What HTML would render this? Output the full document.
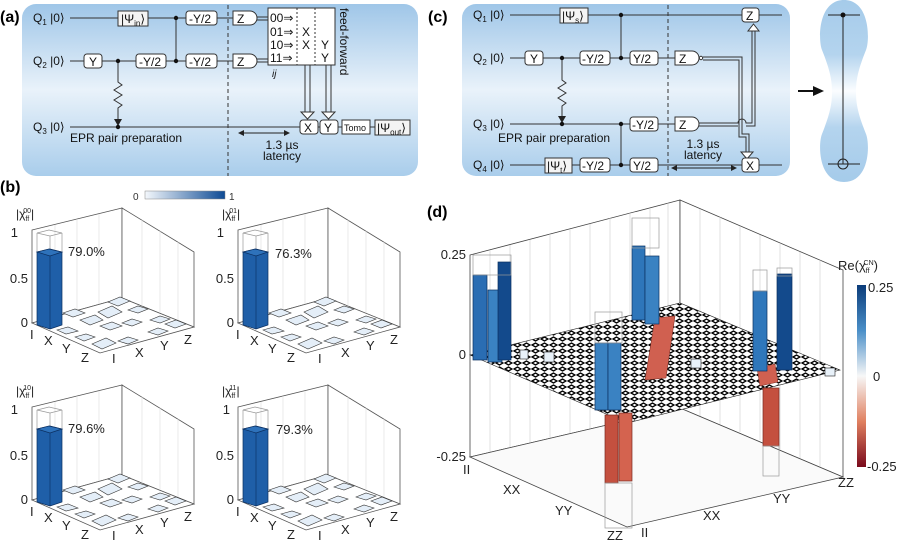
<!DOCTYPE html>
<html><head><meta charset="utf-8"><style>
html,body{margin:0;padding:0;background:#fff;}
svg{display:block;font-family:"Liberation Sans",sans-serif;}
</style></head><body>
<svg width="900" height="548" viewBox="0 0 900 548" xmlns="http://www.w3.org/2000/svg">
<defs>
<linearGradient id="bg" x1="0" y1="0" x2="0" y2="1">
<stop offset="0" stop-color="#9fc6e8"/><stop offset="0.5" stop-color="#e9f2fa"/><stop offset="1" stop-color="#a9cdeb"/></linearGradient>
<linearGradient id="pill" x1="0" y1="0" x2="0" y2="1">
<stop offset="0" stop-color="#a5cbea"/><stop offset="0.3" stop-color="#b4d4ee"/><stop offset="0.5" stop-color="#fbfdff"/><stop offset="0.7" stop-color="#b4d4ee"/><stop offset="1" stop-color="#a5cbea"/></linearGradient>
<linearGradient id="cb1" x1="0" y1="0" x2="1" y2="0"><stop offset="0" stop-color="#f4f8fc"/><stop offset="1" stop-color="#0d4a94"/></linearGradient>
<linearGradient id="cb2" x1="0" y1="0" x2="0" y2="1"><stop offset="0" stop-color="#0b3c7a"/><stop offset="0.25" stop-color="#4a8fc8"/><stop offset="0.5" stop-color="#f7f7f7"/><stop offset="0.75" stop-color="#e08060"/><stop offset="1" stop-color="#7a0a1c"/></linearGradient>
<pattern id="tiles" width="9" height="6" patternUnits="userSpaceOnUse">
<rect width="9" height="6" fill="#fff"/><path d="M1 3 L4.5 1 L8 3 L4.5 5 Z" fill="#fff" stroke="#000" stroke-width="1.3"/></pattern>
<g id="chart">
<polygon points="32,230 122,208 122,298 32,323" fill="#fff" stroke="#555" stroke-width="0.8"/>
<polygon points="122,208 194,252 194,327 122,298" fill="#fff" stroke="#555" stroke-width="0.8"/>
<polygon points="32,323 122,298 194,327 100,353" fill="#fff" stroke="#555" stroke-width="0.8"/>
<g stroke="#ddd" stroke-width="0.6"><line x1="142" y1="220" x2="142" y2="306"/><line x1="160" y1="231" x2="160" y2="313"/><line x1="178" y1="242" x2="178" y2="320"/><line x1="55" y1="225" x2="55" y2="316"/><line x1="77" y1="219" x2="77" y2="310"/><line x1="99" y1="214" x2="99" y2="304"/></g>
<g fill="#e4eef8" stroke="#333" stroke-width="0.6">
<polygon points="63,313 75,309 85,313 73,317"/><polygon points="80,320 95,315 103,320 90,325"/>
<polygon points="108,302 120,297 130,301 118,306"/><polygon points="98,312 112,306 122,312 108,318"/>
<polygon points="57,330 68,327 78,331 66,334"/><polygon points="75,337 86,334 95,337 84,341"/>
<polygon points="92,344 106,338 116,343 102,349"/><polygon points="118,341 128,337 138,340 128,344"/>
<polygon points="100,326 112,322 122,326 110,330"/><polygon points="122,323 132,319 142,322 132,326"/>
<polygon points="128,310 138,306 148,309 138,313"/><polygon points="150,320 160,316 170,319 160,323"/>
<polygon points="148,332 158,328 168,331 158,335"/><polygon points="165,324 176,320 186,324 175,328"/>
</g>
<polygon points="37,233 49,230 62,233 50,236" fill="none" stroke="#999" stroke-width="0.7"/>
<line x1="37" y1="233" x2="37" y2="252" stroke="#999" stroke-width="0.7"/><line x1="62" y1="233" x2="62" y2="252" stroke="#999" stroke-width="0.7"/><line x1="50" y1="236" x2="50" y2="255" stroke="#999" stroke-width="0.7"/>
<polygon points="37,252 37,325 50,329 62,325 62,252 50,249" fill="#1f5fa8" stroke="#0b2f60" stroke-width="0.7"/>
<polygon points="37,252 49,249 62,252 50,256" fill="#2e72bb" stroke="#0b2f60" stroke-width="0.7"/>
<line x1="50" y1="256" x2="50" y2="329" stroke="#0b2f60" stroke-width="0.6"/>
</g>
</defs>

<!-- (a) -->
<rect x="22" y="4" width="396" height="172" rx="14" fill="url(#bg)"/>
<text x="0" y="22" font-size="16" font-weight="bold">(a)</text>
<g stroke="#333" stroke-width="1" fill="none">
<line x1="70" y1="18" x2="233" y2="18"/><line x1="70" y1="61" x2="233" y2="61"/><line x1="70" y1="127" x2="300" y2="127"/>
<line x1="176" y1="18" x2="176" y2="61"/>
<line x1="228" y1="5" x2="228" y2="176" stroke-dasharray="4,3"/>
<path d="M118 61 L118 82 l4 3 l-8 5 l8 5 l-8 5 l8 5 l-4 3 L118 120"/>
<line x1="256" y1="17" x2="268" y2="17"/><line x1="256" y1="20" x2="268" y2="20"/>
<line x1="256" y1="59" x2="268" y2="59"/><line x1="256" y1="62" x2="268" y2="62"/>
<line x1="318" y1="127" x2="320" y2="127"/><line x1="338" y1="127" x2="342" y2="127"/><line x1="370" y1="127" x2="375" y2="127"/>
<line x1="305" y1="65" x2="305" y2="112"/><line x1="310" y1="65" x2="310" y2="112"/>
<line x1="326" y1="65" x2="326" y2="112"/><line x1="331" y1="65" x2="331" y2="112"/>
</g>
<polygon points="301,112 314,112 307.5,119" fill="#fff" stroke="#333"/>
<polygon points="322,112 335,112 328.5,119" fill="#fff" stroke="#333"/>
<polygon points="114,119 122,119 118,126" fill="#222"/>
<g fill="#111"><circle cx="176" cy="18" r="2.2"/><circle cx="176" cy="61" r="2.2"/><circle cx="118" cy="61" r="2.2"/><circle cx="118" cy="127" r="2.2"/></g>
<g fill="#fff" stroke="#333" stroke-width="1">
<rect x="118" y="11" width="30" height="15" fill="#f4f4f4"/>
<rect x="186" y="11" width="31" height="14" rx="3"/><rect x="84" y="54" width="18" height="14" rx="3"/>
<rect x="136" y="54" width="30" height="14" rx="3"/><rect x="186" y="54" width="31" height="14" rx="3"/>
<path d="M233 11 H250 A7 7 0 0 1 250 25 H233 Z"/><path d="M233 54 H250 A7 7 0 0 1 250 68 H233 Z"/>
<rect x="268" y="8" width="67" height="57"/>
<rect x="300" y="120" width="18" height="14" rx="3"/><rect x="320" y="120" width="18" height="14" rx="3"/>
<rect x="342" y="120" width="28" height="14"/><rect x="375" y="120" width="35" height="15" fill="#f4f4f4"/>
</g>
<g stroke="#333" stroke-dasharray="2,2"><line x1="297" y1="8" x2="297" y2="65"/><line x1="315" y1="8" x2="315" y2="65"/></g>
<g font-size="12" fill="#111">
<text x="33" y="22">Q<tspan font-size="8" dy="3">1</tspan><tspan dy="-3"> |0⟩</tspan></text>
<text x="33" y="65">Q<tspan font-size="8" dy="3">2</tspan><tspan dy="-3"> |0⟩</tspan></text>
<text x="33" y="131">Q<tspan font-size="8" dy="3">3</tspan><tspan dy="-3"> |0⟩</tspan></text>
<text x="121" y="23">|Ψ<tspan font-size="8" dy="3">in</tspan><tspan dy="-3">⟩</tspan></text>
<text x="189" y="23">-Y/2</text><text x="89" y="66">Y</text><text x="139" y="66">-Y/2</text><text x="189" y="66">-Y/2</text>
<text x="237" y="23">Z</text><text x="237" y="66">Z</text>
<text x="270" y="22">00⇒</text><text x="270" y="36">01⇒</text><text x="270" y="49">10⇒</text><text x="270" y="62">11⇒</text>
<text x="302" y="36">X</text><text x="302" y="49">X</text><text x="321" y="49">Y</text><text x="321" y="62">Y</text>
<text x="272" y="77" font-style="italic" font-size="10">ij</text>
<text x="304" y="132">X</text><text x="324" y="132">Y</text>
<text x="344" y="131" font-size="9">Tomo</text>
<text x="377" y="132">|Ψ<tspan font-size="8" dy="3">out</tspan><tspan dy="-3">⟩</tspan></text>
<text x="70" y="142">EPR pair preparation</text>
<text x="282" y="149" text-anchor="middle">1.3 µs</text><text x="282" y="160" text-anchor="middle">latency</text>
<text x="340" y="8" transform="rotate(90 340 8)">feed-forward</text>
</g>
<line x1="242" y1="133" x2="286" y2="133" stroke="#222"/><polygon points="238,133 244,130 244,136" fill="#222"/><polygon points="290,133 284,130 284,136" fill="#222"/>

<!-- (c) -->
<text x="428" y="22" font-size="16" font-weight="bold">(c)</text>
<rect x="462" y="4" width="328" height="172" rx="14" fill="url(#bg)"/>
<g stroke="#333" stroke-width="1" fill="none">
<line x1="510" y1="15" x2="782" y2="15"/><line x1="510" y1="58" x2="675" y2="58"/><line x1="510" y1="124" x2="675" y2="124"/><line x1="510" y1="165" x2="782" y2="165"/>
<line x1="621" y1="15" x2="621" y2="58"/><line x1="621" y1="124" x2="621" y2="165"/>
<line x1="668" y1="5" x2="668" y2="176" stroke-dasharray="4,3"/>
<path d="M562 58 L562 80 l4 3 l-8 5 l8 5 l-8 5 l8 5 l-4 3 L562 116"/>
<path d="M703 57 H742 V134 H749 V152"/><path d="M703 60 H739 V137 H746 V152"/>
<path d="M698 123 H738 A4 4 0 0 1 746 123 H752 V30"/><path d="M698 126 H738 M746 126 H755 V30"/>
</g>
<polygon points="741,152 753,152 747,159" fill="#fff" stroke="#333"/>
<polygon points="748,31 759,31 753.5,24" fill="#fff" stroke="#333"/>
<polygon points="558,116 566,116 562,123" fill="#222"/>
<g fill="#111"><circle cx="621" cy="15" r="2.2"/><circle cx="621" cy="58" r="2.2"/><circle cx="562" cy="58" r="2.2"/><circle cx="562" cy="124" r="2.2"/><circle cx="621" cy="124" r="2.2"/><circle cx="621" cy="165" r="2.2"/></g>
<g fill="#fff" stroke="#333" stroke-width="1">
<rect x="560" y="8" width="28" height="15" fill="#f4f4f4"/><rect x="742" y="8" width="17" height="14" rx="3"/>
<rect x="525" y="51" width="18" height="14" rx="3"/><rect x="580" y="51" width="30" height="14" rx="3"/><rect x="630" y="51" width="28" height="14" rx="3"/>
<path d="M675 51 H692 A7 7 0 0 1 692 65 H675 Z"/><circle cx="701" cy="58" r="1.7"/>
<rect x="630" y="117" width="28" height="14" rx="3"/><path d="M675 117 H692 A7 7 0 0 1 692 131 H675 Z"/>
<rect x="545" y="158" width="27" height="15" fill="#f4f4f4"/><rect x="580" y="158" width="30" height="14" rx="3"/><rect x="630" y="158" width="28" height="14" rx="3"/>
<rect x="742" y="158" width="17" height="14" rx="3"/>
</g>
<g font-size="12" fill="#111">
<text x="473" y="19">Q<tspan font-size="8" dy="3">1</tspan><tspan dy="-3"> |0⟩</tspan></text>
<text x="473" y="62">Q<tspan font-size="8" dy="3">2</tspan><tspan dy="-3"> |0⟩</tspan></text>
<text x="473" y="128">Q<tspan font-size="8" dy="3">3</tspan><tspan dy="-3"> |0⟩</tspan></text>
<text x="473" y="169">Q<tspan font-size="8" dy="3">4</tspan><tspan dy="-3"> |0⟩</tspan></text>
<text x="562" y="20">|Ψ<tspan font-size="8" dy="3">s</tspan><tspan dy="-3">⟩</tspan></text>
<text x="746" y="20">Z</text><text x="530" y="63">Y</text><text x="582" y="63">-Y/2</text><text x="633" y="63">Y/2</text><text x="679" y="63">Z</text>
<text x="632" y="129">-Y/2</text><text x="679" y="129">Z</text>
<text x="547" y="170">|Ψ<tspan font-size="8" dy="3">t</tspan><tspan dy="-3">⟩</tspan></text>
<text x="582" y="170">-Y/2</text><text x="633" y="170">Y/2</text><text x="746" y="170">X</text>
<text x="498" y="142">EPR pair preparation</text>
<text x="703" y="148" text-anchor="middle">1.3 µs</text><text x="703" y="159" text-anchor="middle">latency</text>
</g>
<line x1="675" y1="168" x2="733" y2="168" stroke="#222"/><polygon points="671,168 677,165 677,171" fill="#222"/><polygon points="737,168 731,165 731,171" fill="#222"/>
<path d="M844 0 C870 0 870 40 866 50 C858 70 856 80 856 92 C856 104 858 114 866 134 C870 144 870 182 844 182 C818 182 818 144 822 134 C830 114 832 104 832 92 C832 80 830 70 822 50 C818 40 818 0 844 0 Z" fill="url(#pill)"/>
<g stroke="#222" stroke-width="1"><line x1="828" y1="15" x2="860" y2="15"/><line x1="828" y1="164" x2="860" y2="164"/><line x1="843" y1="15" x2="843" y2="164"/><circle cx="843" cy="164" r="5" fill="none"/></g>
<circle cx="843" cy="15" r="2.5" fill="#111"/>
<line x1="798" y1="91" x2="815" y2="91" stroke="#111" stroke-width="2"/><polygon points="824,91 813,86 813,96" fill="#111"/>

<!-- (b) -->
<text x="0" y="192" font-size="16" font-weight="bold">(b)</text>
<rect x="145" y="191" width="80" height="8" fill="url(#cb1)" stroke="#888" stroke-width="0.5"/>
<text x="133" y="200" font-size="10" fill="#333">0</text><text x="229" y="200" font-size="10" fill="#333">1</text>
<use href="#chart"/><use href="#chart" transform="translate(206,0)"/>
<use href="#chart" transform="translate(0,177)"/><use href="#chart" transform="translate(206,177)"/>
<g font-size="13" fill="#222">
<text x="68" y="256">79.0%</text><text x="275" y="258">76.3%</text><text x="68" y="433">79.6%</text><text x="276" y="434">79.3%</text>
<text x="18" y="237" text-anchor="end">1</text><text x="28" y="283" text-anchor="end">0.5</text><text x="28" y="327" text-anchor="end">0</text>
<text x="224" y="237" text-anchor="end">1</text><text x="234" y="283" text-anchor="end">0.5</text><text x="234" y="327" text-anchor="end">0</text>
<text x="18" y="414" text-anchor="end">1</text><text x="28" y="460" text-anchor="end">0.5</text><text x="28" y="504" text-anchor="end">0</text>
<text x="230" y="414" text-anchor="end">1</text><text x="234" y="460" text-anchor="end">0.5</text><text x="234" y="504" text-anchor="end">0</text>
</g>
<g font-size="12" fill="#222">
<text x="16" y="218">|χ<tspan font-size="7" dy="3">ff</tspan><tspan font-size="7" dx="-6" dy="-8">00</tspan><tspan dy="5">|</tspan></text>
<text x="222" y="218">|χ<tspan font-size="7" dy="3">ff</tspan><tspan font-size="7" dx="-6" dy="-8">01</tspan><tspan dy="5">|</tspan></text>
<text x="16" y="395">|χ<tspan font-size="7" dy="3">ff</tspan><tspan font-size="7" dx="-6" dy="-8">10</tspan><tspan dy="5">|</tspan></text>
<text x="222" y="395">|χ<tspan font-size="7" dy="3">ff</tspan><tspan font-size="7" dx="-6" dy="-8">11</tspan><tspan dy="5">|</tspan></text>
</g>
<g font-size="13" fill="#222">
<text x="30" y="339">I</text><text x="44" y="345">X</text><text x="62" y="353">Y</text><text x="81" y="362">Z</text>
<text x="112" y="363">I</text><text x="135" y="357">X</text><text x="160" y="350">Y</text><text x="184" y="344">Z</text>
<text x="236" y="339">I</text><text x="250" y="345">X</text><text x="268" y="353">Y</text><text x="287" y="362">Z</text>
<text x="318" y="363">I</text><text x="341" y="357">X</text><text x="366" y="350">Y</text><text x="390" y="344">Z</text>
<text x="30" y="516">I</text><text x="44" y="522">X</text><text x="62" y="530">Y</text><text x="81" y="539">Z</text>
<text x="112" y="540">I</text><text x="135" y="534">X</text><text x="160" y="527">Y</text><text x="184" y="521">Z</text>
<text x="236" y="516">I</text><text x="250" y="522">X</text><text x="268" y="530">Y</text><text x="287" y="539">Z</text>
<text x="318" y="540">I</text><text x="341" y="534">X</text><text x="366" y="527">Y</text><text x="390" y="521">Z</text>
</g>

<!-- (d) -->
<text x="427" y="217" font-size="16" font-weight="bold">(d)</text>
<polygon points="470,255 680,200 680,408 470,457" fill="#fff" stroke="#444" stroke-width="0.8"/>
<polygon points="680,200 843,270 843,477 680,408" fill="#fff" stroke="#444" stroke-width="0.8"/>
<g stroke="#ccc" stroke-width="0.6">
<line x1="490" y1="250" x2="490" y2="452"/><line x1="510" y1="245" x2="510" y2="447"/><line x1="530" y1="240" x2="530" y2="442"/><line x1="550" y1="234" x2="550" y2="438"/><line x1="570" y1="229" x2="570" y2="433"/><line x1="590" y1="224" x2="590" y2="428"/><line x1="610" y1="218" x2="610" y2="424"/><line x1="630" y1="213" x2="630" y2="419"/><line x1="650" y1="208" x2="650" y2="415"/><line x1="668" y1="203" x2="668" y2="411"/>
<line x1="700" y1="209" x2="700" y2="416"/><line x1="720" y1="217" x2="720" y2="424"/><line x1="740" y1="226" x2="740" y2="432"/><line x1="760" y1="235" x2="760" y2="440"/><line x1="780" y1="243" x2="780" y2="450"/><line x1="800" y1="252" x2="800" y2="459"/><line x1="820" y1="260" x2="820" y2="467"/>
</g>
<polygon points="470,457 680,408 843,477 627,527" fill="#fafafa" stroke="#444" stroke-width="0.8"/>
<polygon points="470,355 680,303 840,370 627,423" fill="url(#tiles)" stroke="#222" stroke-width="0.6"/>
<g fill="#d06050" stroke="#7a2a20" stroke-width="0.5">
<polygon points="655,318 675,316 666,378 645,380"/><polygon points="757,368 775,364 778,382 760,386"/>
</g>
<g stroke="#0b2f60" stroke-width="0.7">
<rect x="473" y="275" width="14" height="85" fill="#2a6db3"/><rect x="488" y="290" width="14" height="72" fill="#3a82c2"/><rect x="498" y="262" width="13" height="98" fill="#134a8c"/>
<rect x="632" y="246" width="13" height="74" fill="#2e76ba"/><rect x="645" y="256" width="14" height="68" fill="#3a82c2"/>
<rect x="595" y="343" width="13" height="67" fill="#3a82c2"/><rect x="608" y="343" width="13" height="67" fill="#3a82c2"/>
<rect x="753" y="291" width="14" height="80" fill="#2f77bb"/><rect x="777" y="274" width="15" height="96" fill="#134a8c"/>
</g>
<g stroke="#7a2a20" stroke-width="0.7" fill="#d06050">
<rect x="605" y="415" width="13" height="68" fill="#c4503f"/><rect x="619" y="413" width="13" height="68" fill="#d4634f"/>
<rect x="763" y="388" width="16" height="58" fill="#c4503f"/>
</g>
<g fill="none" stroke="#999" stroke-width="0.7">
<rect x="473" y="255" width="38" height="20"/><rect x="632" y="218" width="27" height="30"/>
<rect x="595" y="312" width="27" height="31"/><rect x="753" y="270" width="14" height="21"/><rect x="777" y="268" width="15" height="8"/>
<rect x="605" y="483" width="27" height="45"/><rect x="763" y="446" width="16" height="30"/>
</g>
<g fill="#e8f1f9" stroke="#222" stroke-width="0.6"><rect x="520" y="350" width="8" height="9"/><rect x="544" y="352" width="10" height="10"/><rect x="691" y="359" width="10" height="9"/><rect x="825" y="368" width="10" height="8"/></g>
<rect x="857" y="285" width="9" height="182" fill="url(#cb2)"/>
<g font-size="13" fill="#222">
<text x="466" y="259" text-anchor="end">0.25</text><text x="466" y="359" text-anchor="end">0</text><text x="466" y="461" text-anchor="end">-0.25</text>
<text x="868" y="292">0.25</text><text x="873" y="381">0</text><text x="867" y="471">-0.25</text>
<text x="838" y="270">Re(χ<tspan font-size="7" dy="3">ff</tspan><tspan font-size="7" dx="-6" dy="-8">CN</tspan><tspan dy="5">)</tspan></text>
<text x="463" y="474">II</text><text x="503" y="494">XX</text><text x="555" y="515">YY</text><text x="607" y="540">ZZ</text>
<text x="641" y="537">II</text><text x="703" y="520">XX</text><text x="773" y="503">YY</text><text x="838" y="487">ZZ</text>
</g>
</svg>
</body></html>
